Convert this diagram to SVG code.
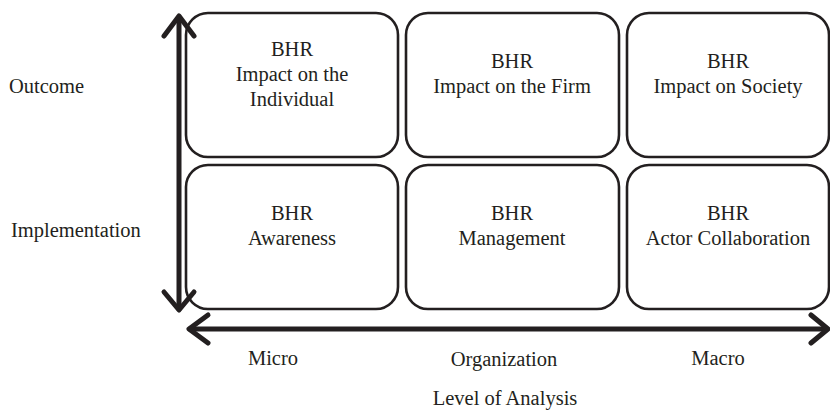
<svg xmlns="http://www.w3.org/2000/svg" width="830" height="414" viewBox="0 0 830 414">
  <style>
    .box { fill: #ffffff; stroke: #231f20; stroke-width: 2.6; }
    .lbl { font-family: "Liberation Serif", "Times New Roman", serif; font-size: 20.5px; fill: #231f20; }
    .mid { text-anchor: middle; }
    .axis { fill: none; stroke: #231f20; stroke-width: 5; stroke-linecap: round; stroke-linejoin: round; }
  </style>
  <rect width="830" height="414" fill="#ffffff"/>

  <!-- Row labels -->
  <text class="lbl" x="9" y="93">Outcome</text>
  <text class="lbl" x="11" y="237">Implementation</text>

  <!-- Outcome row -->
  <g id="impact-individual">
    <rect class="box" x="186" y="13" width="212" height="144" rx="22"/>
    <text class="lbl mid" x="292" y="56">BHR</text>
    <text class="lbl mid" x="292" y="81">Impact on the</text>
    <text class="lbl mid" x="292" y="106">Individual</text>
  </g>
  <g id="impact-firm">
    <rect class="box" x="406" y="13" width="213" height="144" rx="22"/>
    <text class="lbl mid" x="512" y="68">BHR</text>
    <text class="lbl mid" x="512" y="93">Impact on the Firm</text>
  </g>
  <g id="impact-society">
    <rect class="box" x="627" y="13" width="202" height="144" rx="22"/>
    <text class="lbl mid" x="728" y="68">BHR</text>
    <text class="lbl mid" x="728" y="93">Impact on Society</text>
  </g>

  <!-- Implementation row -->
  <g id="awareness">
    <rect class="box" x="186" y="165" width="212" height="144" rx="22"/>
    <text class="lbl mid" x="292" y="220">BHR</text>
    <text class="lbl mid" x="292" y="245">Awareness</text>
  </g>
  <g id="management">
    <rect class="box" x="406" y="165" width="213" height="144" rx="22"/>
    <text class="lbl mid" x="512" y="220">BHR</text>
    <text class="lbl mid" x="512" y="245">Management</text>
  </g>
  <g id="actor-collaboration">
    <rect class="box" x="627" y="165" width="202" height="144" rx="22"/>
    <text class="lbl mid" x="728" y="220">BHR</text>
    <text class="lbl mid" x="728" y="245">Actor Collaboration</text>
  </g>

  <!-- Axes -->
  <g id="connectors">
    <path class="axis" d="M179 17 V309"/>
    <path class="axis" d="M164 36 L179 16 L194 36"/>
    <path class="axis" d="M164 292 L179 310 L194 292"/>
    <path class="axis" d="M190 329 H826"/>
    <path class="axis" d="M208 315 L189 329 L208 343"/>
    <path class="axis" d="M811 315 L828 329 L811 343"/>
  </g>

  <!-- Axis labels -->
  <text class="lbl mid" x="273" y="365">Micro</text>
  <text class="lbl mid" x="504" y="366">Organization</text>
  <text class="lbl mid" x="718" y="365">Macro</text>
  <text class="lbl mid" x="505" y="405">Level of Analysis</text>
</svg>
